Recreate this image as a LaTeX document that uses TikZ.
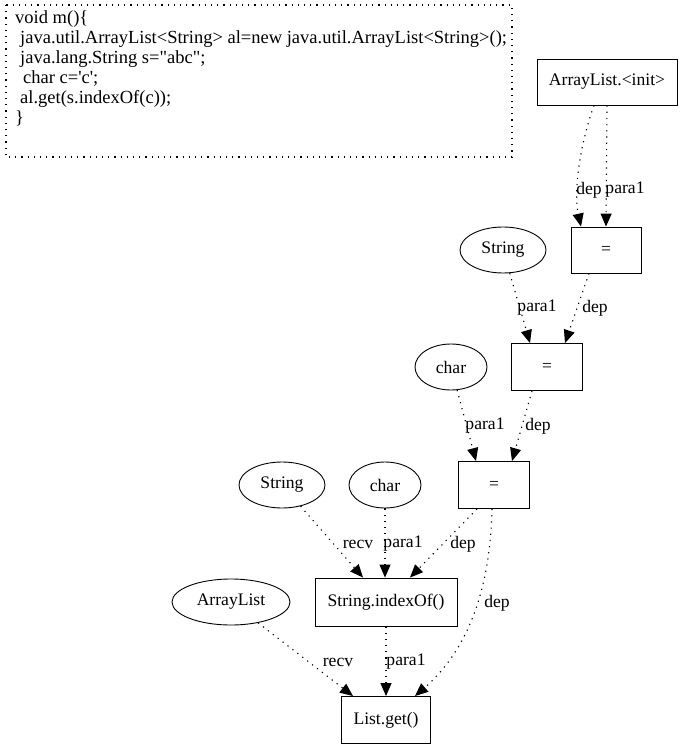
\documentclass[tikz,border=0pt]{standalone}
\usepackage{fontspec}
\setmainfont{Liberation Serif}[Ligatures=TeXOff]
\usetikzlibrary{shapes.geometric,arrows.meta}
\begin{document}
\begin{tikzpicture}[x=1pt,y=-1pt,
  every node/.style={font=\fontsize{17.6}{19.6}\selectfont},
  box/.style={draw,line width=0.9pt,rectangle,inner sep=0pt},
  ell/.style={draw,line width=0.9pt,ellipse,inner sep=0pt},
  dep/.style={line width=1.1pt,dash pattern=on 1.2pt off 5pt,
    -{Triangle[length=13pt,width=11pt]}},
  lbl/.style={inner sep=0pt}]
\useasboundingbox (0,0) rectangle (683,749);
% code box
\draw[line width=1.1pt,dash pattern=on 1.2pt off 5pt] (6,5) rectangle (512,157);
\node[anchor=north west,align=left,inner sep=0pt,font=\fontsize{18.5}{20}\selectfont] (code) at (15,10)
 {void m()\{\\
 \hspace*{5pt}java.util.ArrayList<String> al=new java.util.ArrayList<String>();\\
 \hspace*{5pt}java.lang.String s="abc";\\
 \hspace*{8pt}char c='c';\\
 \hspace*{5pt}al.get(s.indexOf(c));\\
 \}};
% nodes
\node[box,minimum width=140pt,minimum height=46pt] (init) at (607,82) {ArrayList.<init>};
\node[box,minimum width=70pt,minimum height=46pt] (e1) at (606,250) {=};
\node[ell,minimum width=86pt,minimum height=46pt] (s1) at (503,250) {String};
\node[box,minimum width=71pt,minimum height=47pt] (e2) at (547,367) {=};
\node[ell,minimum width=72pt,minimum height=46pt] (c1) at (451,367) {char};
\node[box,minimum width=71pt,minimum height=47pt] (e3) at (494,485) {=};
\node[ell,minimum width=86pt,minimum height=46pt] (s2) at (282,485) {String};
\node[ell,minimum width=72pt,minimum height=46pt] (c2) at (385,485) {char};
\node[box,minimum width=142pt,minimum height=48pt] (idx) at (386,602) {String.indexOf()};
\node[ell,minimum width=118pt,minimum height=46pt] (al) at (231,602) {ArrayList};
\node[box,minimum width=89pt,minimum height=47pt] (get) at (386,720) {List.get()};
% edges
\draw[dep] ([xshift=-13pt]init.south) .. controls (578,150) and (574,195) .. ([xshift=-25pt]e1.north)
  node[lbl] at (589,190) {dep};
\draw[dep] (init.south) -- (e1.north) node[lbl] at (625,190) {para1};
\draw[dep] (s1) -- ([xshift=-17pt]e2.north) node[lbl] at (537,308) {para1};
\draw[dep] ([xshift=-17pt]e1.south) -- ([xshift=18pt]e2.north) node[lbl] at (595,308) {dep};
\draw[dep] (c1) -- ([xshift=-18pt]e3.north) node[lbl] at (485,426) {para1};
\draw[dep] ([xshift=-15pt]e2.south) -- ([xshift=18pt]e3.north) node[lbl] at (538,426) {dep};
\draw[dep] (s2) -- ([xshift=-23pt]idx.north) node[lbl] at (358,544) {recv};
\draw[dep] (c2.south) -- (c2.south |- idx.north) node[lbl] at (403,544) {para1};
\draw[dep] ([xshift=-17pt]e3.south) -- ([xshift=24pt]idx.north) node[lbl] at (463,544) {dep};
\draw[dep] ([xshift=-2pt]e3.south) .. controls (490,600) and (462,655) .. ([xshift=29pt]get.north)
  node[lbl] at (497,603) {dep};
\draw[dep] (al) -- ([xshift=-33pt]get.north) node[lbl] at (338,662) {recv};
\draw[dep] (idx.south) -- (get.north) node[lbl] at (406,662) {para1};
\end{tikzpicture}
\end{document}
